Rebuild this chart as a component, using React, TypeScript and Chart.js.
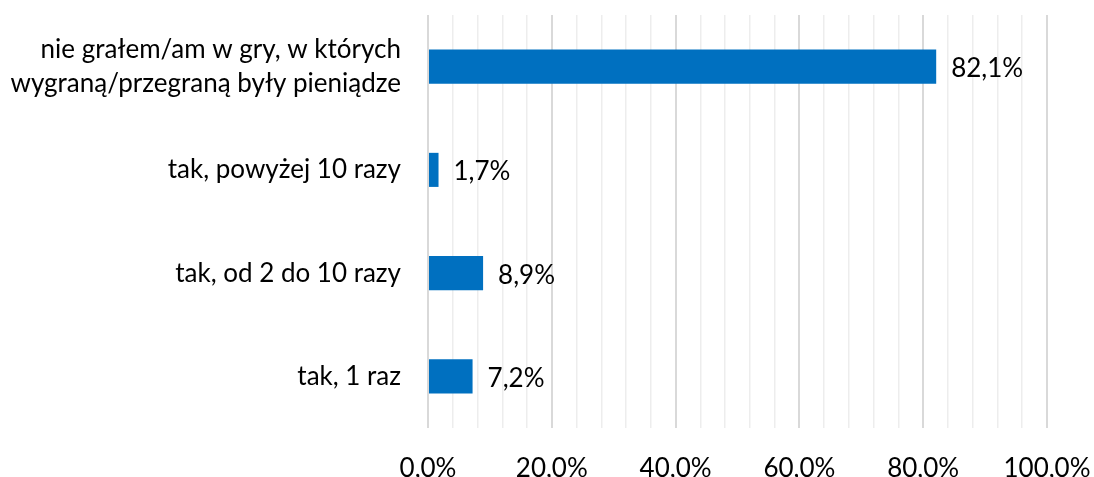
import React, { useEffect, useRef } from "react";
import { Chart, registerables } from "chart.js";

Chart.register(...registerables);

const categories: (string | string[])[] = [
  ["nie grałem/am w gry, w których", "wygraną/przegraną były pieniądze"],
  "tak, powyżej 10 razy",
  "tak, od 2 do 10 razy",
  "tak, 1 raz",
];
const values = [82.1, 1.7, 8.9, 7.2];
const xMin = 0;
const xMax = 100;
const xStep = 4;
const majorStep = 20;

const FONT = "Lato, 'Open Sans', sans-serif";
const FS = 26;

const fmt = (v: number) => v.toFixed(1).replace(".", ",") + "%";

const labelPlugin = {
  id: "barLabels",
  afterDatasetsDraw(chart: any) {
    const ctx = chart.ctx;
    const meta = chart.getDatasetMeta(0);
    ctx.save();
    ctx.font = `${FS}px ${FONT}`;
    ctx.fillStyle = "#000";
    ctx.textAlign = "left";
    ctx.textBaseline = "middle";
    meta.data.forEach((el: any, i: number) => {
      ctx.fillText(fmt(values[i]), el.x + 15, el.y + 2);
    });
    ctx.restore();
  },
};

export default function App() {
  const ref = useRef<HTMLCanvasElement>(null);
  useEffect(() => {
    document.body.style.margin = "0";
    const chart = new Chart(ref.current!, {
      type: "bar",
      data: {
        labels: categories,
        datasets: [
          {
            data: values,
            backgroundColor: "#0070C0",
            barPercentage: 0.66,
            categoryPercentage: 0.5,
          },
        ],
      },
      plugins: [labelPlugin],
      options: {
        indexAxis: "y",
        animation: false,
        responsive: false,
        maintainAspectRatio: false,
        layout: { padding: { top: 15, right: 47, bottom: 0, left: 0 } },
        plugins: { legend: { display: false }, tooltip: { enabled: false } },
        scales: {
          x: {
            min: xMin,
            max: xMax,
            border: { display: false },
            afterFit: (s: any) => {
              s.height = 49;
              s.paddingLeft = 0;
              s.paddingRight = 0;
            },
            ticks: {
              stepSize: xStep,
              autoSkip: false,
              maxRotation: 0,
              padding: 25,
              color: "#000",
              font: { family: FONT, size: FS },
              callback: (v: any) => (Number(v) % majorStep === 0 ? fmt(Number(v)) : ""),
            },
            grid: {
              drawTicks: false,
              color: (c: any) => (c.tick && c.tick.value % majorStep === 0 ? "#d9d9d9" : "#ededed"),
              lineWidth: (c: any) => (c.tick && c.tick.value % majorStep === 0 ? 2 : 1.5),
            },
          },
          y: {
            border: { display: false },
            grid: { display: false, drawTicks: false },
            afterFit: (s: any) => {
              s.width = 428;
              s.paddingTop = 0;
              s.paddingBottom = 0;
            },
            ticks: {
              padding: 27,
              color: "#000",
              font: { family: FONT, size: FS, lineHeight: 1.33 },
            },
          },
        },
      },
    });
    return () => chart.destroy();
  }, []);
  return (
    <div style={{ width: 1094, height: 477 }}>
      <canvas ref={ref} width={1094} height={477} style={{ display: "block" }} />
    </div>
  );
}
